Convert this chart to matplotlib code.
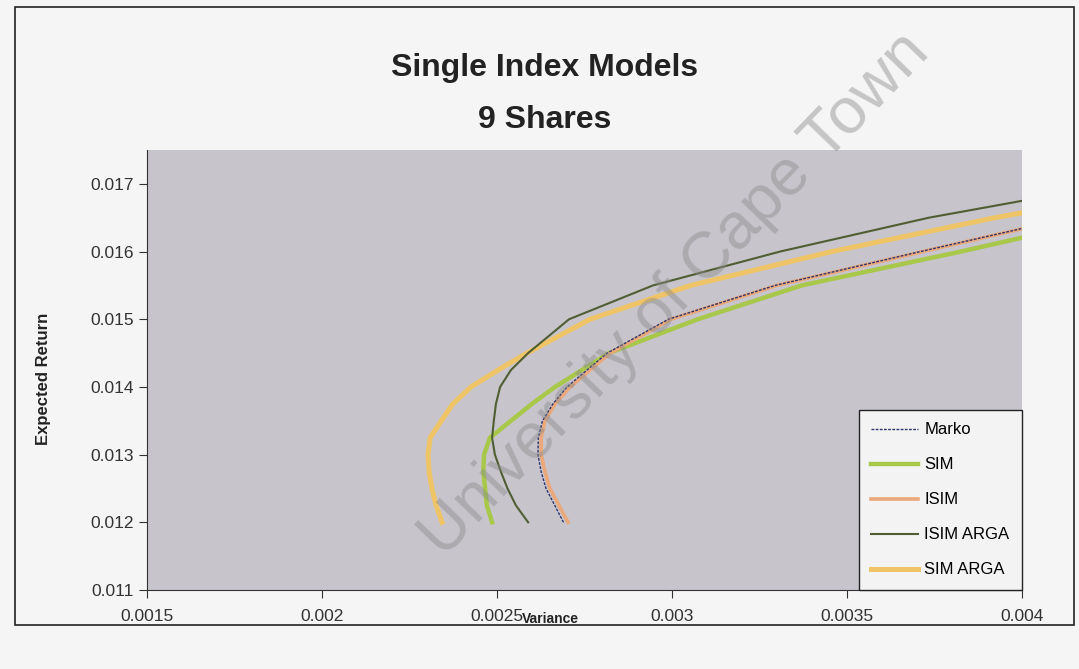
import matplotlib
matplotlib.use("Agg")
import matplotlib.pyplot as plt
from matplotlib.patches import Rectangle

plt.rcParams['font.family'] = ['Liberation Sans', 'DejaVu Sans']

# values (variance, expected return)
sim_arga_ret = [0.012, 0.01225, 0.0125, 0.01275, 0.013, 0.01325, 0.0135, 0.01375,
                0.014, 0.01425, 0.0145, 0.015, 0.0155, 0.016, 0.0165, 0.016572]
sim_arga_var = [0.002343, 0.002326, 0.002314, 0.002306, 0.002303, 0.002309, 0.002341, 0.002374,
                0.002426, 0.002503, 0.002586, 0.002766, 0.003054, 0.003457, 0.003923, 0.004]

isim_arga_ret = [0.012, 0.01225, 0.0125, 0.01275, 0.013, 0.01325, 0.0135, 0.01375,
                 0.014, 0.01425, 0.0145, 0.015, 0.0155, 0.016, 0.0165, 0.016749]
isim_arga_var = [0.002589, 0.002554, 0.00253, 0.002511, 0.002494, 0.002486, 0.002491, 0.002497,
                 0.002509, 0.00254, 0.002589, 0.002706, 0.002946, 0.003309, 0.003734, 0.004]

sim_ret = [0.012, 0.01225, 0.0125, 0.01275, 0.013, 0.01325, 0.0135, 0.01375,
           0.014, 0.0145, 0.015, 0.0155, 0.016, 0.016204]
sim_var = [0.002486, 0.002471, 0.002466, 0.002461, 0.002463, 0.00248, 0.00254, 0.0026,
           0.002666, 0.00282, 0.003074, 0.003371, 0.003826, 0.004]

isim_ret = [0.012, 0.01225, 0.0125, 0.01275, 0.013, 0.01325, 0.0135, 0.01375,
            0.014, 0.0145, 0.015, 0.0155, 0.016, 0.016336]
isim_var = [0.002703, 0.002677, 0.002651, 0.002637, 0.002626, 0.002626, 0.002637, 0.002666,
            0.002709, 0.002823, 0.002997, 0.0033, 0.003717, 0.004]

marko_ret = [0.012, 0.01225, 0.0125, 0.01275, 0.013, 0.01325, 0.0135, 0.01375,
             0.014, 0.0145, 0.015, 0.0155, 0.016, 0.01634]
marko_var = [0.00269, 0.002665, 0.00264, 0.002626, 0.002617, 0.002618, 0.00263, 0.00266,
             0.0027, 0.002815, 0.00299, 0.003295, 0.00371, 0.004]

x_ticks = [0.0015, 0.002, 0.0025, 0.003, 0.0035, 0.004]
x_labels = ['0.0015', '0.002', '0.0025', '0.003', '0.0035', '0.004']
y_ticks = [0.011, 0.012, 0.013, 0.014, 0.015, 0.016, 0.017]
y_labels = ['0.011', '0.012', '0.013', '0.014', '0.015', '0.016', '0.017']

fig = plt.figure(figsize=(10.79, 6.69), dpi=100)
fig.patch.set_facecolor('#f5f5f5')
ax = fig.add_axes([0.1362, 0.1181, 0.8110, 0.6577])
ax.set_facecolor('#c7c4cb')

# outer chart border
fig.patches.append(Rectangle((15 / 1079, 1 - 625 / 669), 1059 / 1079, 618 / 669,
                             transform=fig.transFigure, fill=False,
                             edgecolor='#222222', linewidth=1.2))

ax.plot(marko_var, marko_ret, color='#2c3570', lw=1.0, ls=(0, (2, 1)), label='Marko', zorder=6)
ax.plot(sim_var, sim_ret, color='#a9c84a', lw=3.2, label='SIM', zorder=3)
ax.plot(isim_var, isim_ret, color='#eba87a', lw=2.6, label='ISIM', zorder=4)
ax.plot(isim_arga_var, isim_arga_ret, color='#4f5e33', lw=1.5, label='ISIM ARGA', zorder=5)
ax.plot(sim_arga_var, sim_arga_ret, color='#efc467', lw=3.6, label='SIM ARGA', zorder=2)

ax.set_xlim(0.0015, 0.004)
ax.set_ylim(0.011, 0.0175)
ax.set_xticks(x_ticks)
ax.set_xticklabels(x_labels)
ax.set_yticks(y_ticks)
ax.set_yticklabels(y_labels)
ax.tick_params(axis='both', labelsize=12.5, colors='#333333', direction='out', length=6)
ax.tick_params(axis='x', pad=8)

for side in ['top', 'right']:
    ax.spines[side].set_visible(False)
for side in ['left', 'bottom']:
    ax.spines[side].set_color('#333333')

ax.set_xlabel('Variance', fontsize=10, fontweight='bold', color='#222222')
ax.xaxis.set_label_coords(0.461, -0.05)
ax.set_ylabel('Expected Return', fontsize=12, fontweight='bold', color='#222222')
ax.yaxis.set_label_coords(-0.11, 0.48)

fig.text(545 / 1079, 1 - 68 / 669, 'Single Index Models', ha='center', va='center',
         fontsize=23, fontweight='bold', color='#222222')
fig.text(545 / 1079, 1 - 120 / 669, '9 Shares', ha='center', va='center',
         fontsize=23, fontweight='bold', color='#222222')

leg = ax.legend(loc='lower right', bbox_to_anchor=(1.0, 0.0), fontsize=12,
                frameon=True, fancybox=False, handlelength=2.8, labelspacing=1.2,
                borderpad=0.75, handletextpad=0.4, borderaxespad=0.0)
leg.get_frame().set_facecolor('#f3f3f3')
leg.get_frame().set_edgecolor('#222222')
leg.get_frame().set_alpha(1)
leg.set_zorder(10)

# scan watermark
fig.text(675 / 1079, 1 - 295 / 669, 'University of Cape Town', ha='center', va='center',
         rotation=46, fontsize=47, color='#8a8a8a', alpha=0.45, zorder=20)

fig.savefig('out.png', dpi=100, facecolor=fig.get_facecolor())
